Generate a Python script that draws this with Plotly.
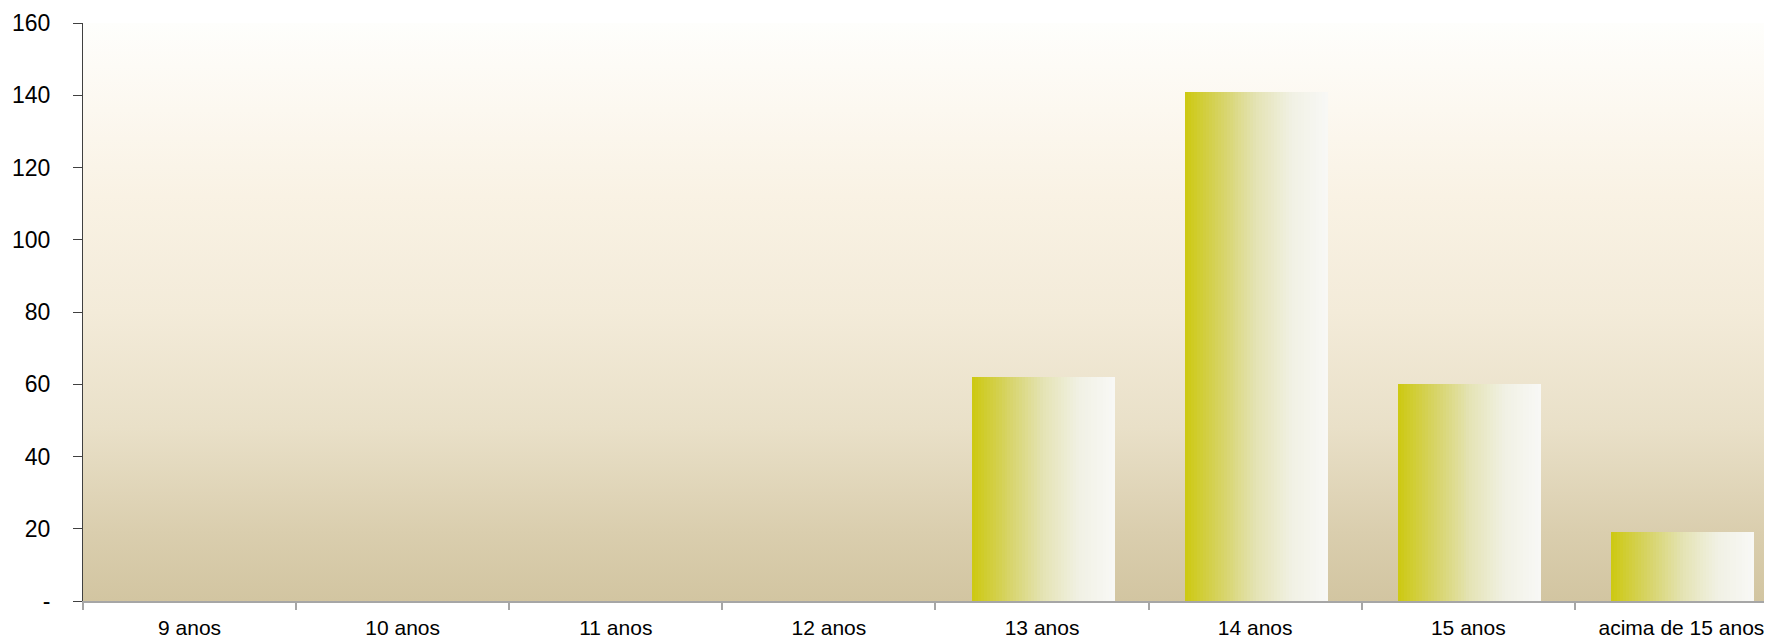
import plotly.graph_objects as go

categories = ["9 anos", "10 anos", "11 anos", "12 anos", "13 anos", "14 anos", "15 anos", "acima de 15 anos"]
values = [0, 0, 0, 0, 62, 141, 60, 19]
y_tickvals = [0, 20, 40, 60, 80, 100, 120, 140, 160]
y_ticktext = ["-", "20", "40", "60", "80", "100", "120", "140", "160"]

xpos = list(range(len(categories)))
XR = [-0.5, 7.425]
YR = [0, 160]

fig = go.Figure()

# plot-area background gradient (on hidden base axes, below the bars)
fig.add_trace(go.Scatter(
    x=[-0.5, 7.5, 7.5, -0.5, -0.5], y=[0, 0, 160, 160, 0],
    xaxis="x", yaxis="y",
    mode="lines", line=dict(width=0), fill="toself",
    fillgradient=dict(type="vertical", start=0, stop=160,
                      colorscale=[[0, "#D2C5A1"], [0.12, "#DACEAE"], [0.3, "#E9E0C8"],
                                  [0.5, "#F3EBD9"], [0.7, "#F9F2E4"], [0.85, "#FCF8F0"],
                                  [1, "#FEFEFC"]]),
    hoverinfo="skip", showlegend=False))

# bars with horizontal gradient built from narrow overlaid strips
stops = [(0, (205, 201, 16)), (0.25, (214, 211, 100)), (0.5, (228, 227, 180)),
         (0.75, (241, 241, 228)), (1, (248, 248, 246))]

def col(t):
    for (a, ca), (b, cb) in zip(stops[:-1], stops[1:]):
        if a <= t <= b:
            f = (t - a) / (b - a)
            c = [round(ca[i] + (cb[i] - ca[i]) * f) for i in range(3)]
            return "rgb(%d,%d,%d)" % tuple(c)
    return "rgb(248,248,246)"

N = 48
bw = 0.671
sw = bw / N
for k in range(N):
    fig.add_trace(go.Bar(
        x=xpos, y=values, xaxis="x2", yaxis="y2",
        width=sw * (1.6 if k < N - 1 else 1.0),
        offset=-0.33 + k * sw,
        marker=dict(color=col((k + 0.5) / N), line=dict(width=0)),
        showlegend=False, hoverinfo="skip"))

# page body has an 8px default margin, so the figure is sized to fit the window
fig.update_layout(
    width=1764, height=632,
    margin=dict(l=75, r=0, t=15, b=39),
    paper_bgcolor="white", plot_bgcolor="white",
    barmode="overlay", bargap=0,
    font=dict(family="Liberation Sans, Arial, sans-serif", color="#000000"),
    showlegend=False,
    xaxis=dict(range=XR, visible=False, fixedrange=True),
    yaxis=dict(range=YR, visible=False, fixedrange=True),
    xaxis2=dict(
        overlaying="x", anchor="y2", automargin=False,
        range=XR, tickmode="array", tickvals=xpos, ticktext=categories,
        ticks="", showgrid=False, zeroline=False,
        showline=True, linecolor="#A6A6A6", linewidth=2,
        tickfont=dict(size=21), ticklabelstandoff=7,
        minor=dict(tickmode="linear", tick0=-0.5, dtick=1, ticks="outside",
                   ticklen=7, tickcolor="#A6A6A6", tickwidth=2, showgrid=False),
    ),
    yaxis2=dict(
        overlaying="y", anchor="x2", automargin=False,
        range=YR, tickmode="array", tickvals=y_tickvals, ticktext=y_ticktext,
        ticks="outside", ticklen=9, tickcolor="#404040", tickwidth=1,
        showgrid=False, zeroline=False,
        showline=True, linecolor="#404040", linewidth=1,
        tickfont=dict(size=23), ticklabelstandoff=18,
    ),
)

fig.write_html("out.html")
